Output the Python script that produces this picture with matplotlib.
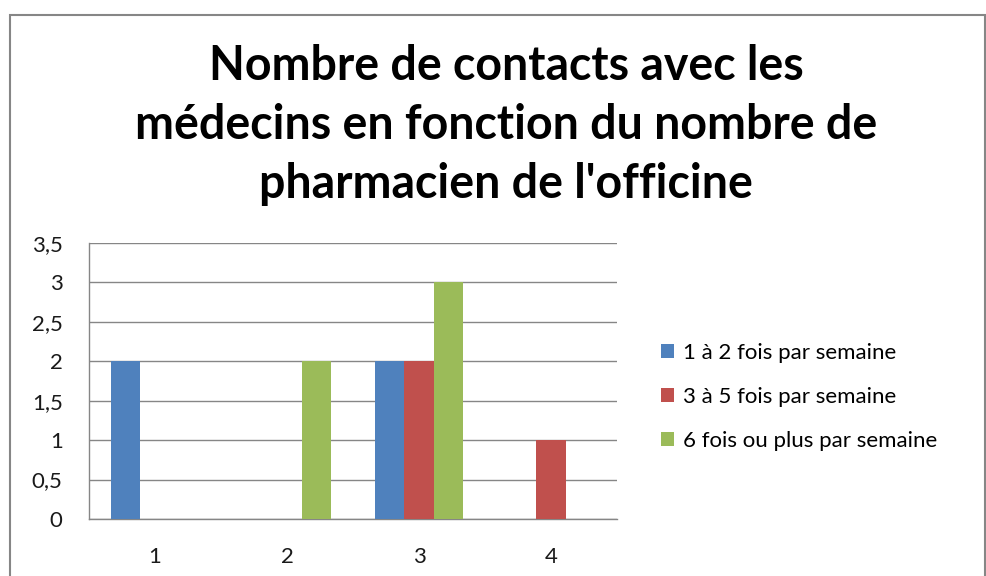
import matplotlib
matplotlib.use("Agg")
import matplotlib.pyplot as plt
import matplotlib.ticker as ticker
from matplotlib.patches import Rectangle
import numpy as np

plt.rcParams["font.family"] = ["Lato", "DejaVu Sans"]

# ---------------------------------------------------------------------------
# Données
# ---------------------------------------------------------------------------
categories = ["1", "2", "3", "4"]
series_names = [
    "1 à 2 fois par semaine",
    "3 à 5 fois par semaine",
    "6 fois ou plus par semaine",
]
vals_1a2 = [2, 0, 2, 0]
vals_3a5 = [0, 0, 2, 1]
vals_6plus = [0, 2, 3, 0]
colors = ["#4F81BD", "#C0504D", "#9BBB59"]
title = ("Nombre de contacts avec les\n"
         "médecins en fonction du nombre de\n"
         "pharmacien de l'officine")

fig = plt.figure(figsize=(9.87, 5.76), dpi=100)
fig.patch.set_facecolor("white")

# cadre du graphique
fig.patches.append(Rectangle((10 / 987, -0.05), 975 / 987, 1.05 - 15 / 576,
                             transform=fig.transFigure, fill=False,
                             edgecolor="#868686", linewidth=1.5))

ax = fig.add_axes([89 / 987, 1 - 519 / 576, 528 / 987, 276 / 576])

x = np.arange(len(categories))
width = 1 / 4.5
for i, (vals, name) in enumerate(zip([vals_1a2, vals_3a5, vals_6plus], series_names)):
    ax.bar(x + (i - 1) * width, vals, width, color=colors[i], label=name,
           zorder=3, linewidth=0)

ax.set_xlim(-0.5, len(categories) - 0.5)
ax.set_ylim(0, 3.5)
ax.set_yticks(np.arange(0, 3.51, 0.5))
ax.yaxis.set_major_formatter(ticker.FuncFormatter(
    lambda v, _: (f"{v:g}").replace(".", ",")))
ax.set_xticks(x)
ax.set_xticklabels(categories)
ax.grid(axis="y", color="#868686", linewidth=1, zorder=0)
ax.set_axisbelow(True)
for s in ["top", "right"]:
    ax.spines[s].set_visible(False)
for s in ["left", "bottom"]:
    ax.spines[s].set_color("#868686")
    ax.spines[s].set_linewidth(1)
ax.tick_params(axis="y", length=0, pad=19, labelsize=16, colors="#1a1a1a")
ax.tick_params(axis="x", length=0, pad=20, labelsize=16, colors="#1a1a1a")

fig.text(506 / 987, 1 - 125 / 576, title, ha="center", va="center",
         fontsize=33.5, fontweight="bold", linespacing=1.42, color="black")

fig.legend(loc="center left", bbox_to_anchor=(652 / 987, 1 - 397 / 576),
           frameon=False, fontsize=16, handlelength=0.6, handleheight=0.6,
           handletextpad=0.4, labelspacing=1.08, borderaxespad=0)

fig.savefig("out.png", dpi=100, facecolor="white")
